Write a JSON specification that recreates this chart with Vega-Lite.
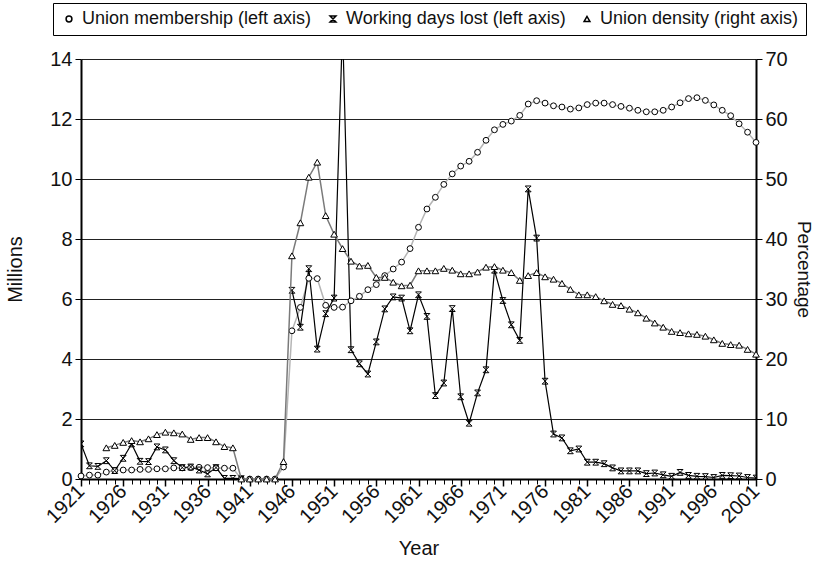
{
  "$schema": "https://vega.github.io/schema/vega-lite/v6.json",
  "width": 675,
  "height": 420,
  "autosize": {"type": "none"},
  "padding": {"left": 81, "top": 59, "right": 62, "bottom": 83},
  "background": "white",
  "config": {
    "font": "Liberation Sans",
    "view": {"stroke": null},
    "axis": {
      "labelFont": "Liberation Sans",
      "titleFont": "Liberation Sans",
      "labelFontSize": 20,
      "titleFontSize": 20,
      "titleFontWeight": "normal",
      "labelColor": "#111",
      "titleColor": "#111",
      "domainColor": "black",
      "tickColor": "black"
    },
    "legend": {
      "labelFont": "Liberation Sans",
      "labelFontSize": 18,
      "labelColor": "#111",
      "labelLimit": 0,
      "strokeColor": "black",
      "padding": 7,
      "labelOffset": 4,
      "columnPadding": 12,
      "symbolSize": 34
    }
  },
  "data": {
    "values": [
      {"year": 1921, "series": "membership", "value": 0.10}, {"year": 1921, "series": "days", "period": "pre", "value": 1.17},
      {"year": 1922, "series": "membership", "value": 0.13}, {"year": 1922, "series": "days", "period": "pre", "value": 0.44},
      {"year": 1923, "series": "membership", "value": 0.13}, {"year": 1923, "series": "days", "period": "pre", "value": 0.42},
      {"year": 1924, "series": "membership", "value": 0.23}, {"year": 1924, "series": "days", "period": "pre", "value": 0.61}, {"year": 1924, "series": "density", "value": 5.2},
      {"year": 1925, "series": "membership", "value": 0.28}, {"year": 1925, "series": "days", "period": "pre", "value": 0.28}, {"year": 1925, "series": "density", "value": 5.6},
      {"year": 1926, "series": "membership", "value": 0.30}, {"year": 1926, "series": "days", "period": "pre", "value": 0.69}, {"year": 1926, "series": "density", "value": 6.1},
      {"year": 1927, "series": "membership", "value": 0.30}, {"year": 1927, "series": "days", "period": "pre", "value": 1.17}, {"year": 1927, "series": "density", "value": 6.4},
      {"year": 1928, "series": "membership", "value": 0.32}, {"year": 1928, "series": "days", "period": "pre", "value": 0.59}, {"year": 1928, "series": "density", "value": 6.2},
      {"year": 1929, "series": "membership", "value": 0.32}, {"year": 1929, "series": "days", "period": "pre", "value": 0.58}, {"year": 1929, "series": "density", "value": 6.7},
      {"year": 1930, "series": "membership", "value": 0.34}, {"year": 1930, "series": "days", "period": "pre", "value": 1.07}, {"year": 1930, "series": "density", "value": 7.4},
      {"year": 1931, "series": "membership", "value": 0.34}, {"year": 1931, "series": "days", "period": "pre", "value": 0.97}, {"year": 1931, "series": "density", "value": 7.8},
      {"year": 1932, "series": "membership", "value": 0.37}, {"year": 1932, "series": "days", "period": "pre", "value": 0.61}, {"year": 1932, "series": "density", "value": 7.7},
      {"year": 1933, "series": "membership", "value": 0.37}, {"year": 1933, "series": "days", "period": "pre", "value": 0.38}, {"year": 1933, "series": "density", "value": 7.5},
      {"year": 1934, "series": "membership", "value": 0.38}, {"year": 1934, "series": "days", "period": "pre", "value": 0.40}, {"year": 1934, "series": "density", "value": 6.6},
      {"year": 1935, "series": "membership", "value": 0.39}, {"year": 1935, "series": "days", "period": "pre", "value": 0.30}, {"year": 1935, "series": "density", "value": 6.9},
      {"year": 1936, "series": "membership", "value": 0.38}, {"year": 1936, "series": "days", "period": "pre", "value": 0.17}, {"year": 1936, "series": "density", "value": 6.9},
      {"year": 1937, "series": "membership", "value": 0.37}, {"year": 1937, "series": "days", "period": "pre", "value": 0.38}, {"year": 1937, "series": "density", "value": 6.2},
      {"year": 1938, "series": "membership", "value": 0.36}, {"year": 1938, "series": "days", "period": "pre", "value": 0.02}, {"year": 1938, "series": "density", "value": 5.4},
      {"year": 1939, "series": "membership", "value": 0.36}, {"year": 1939, "series": "days", "period": "pre", "value": 0.02}, {"year": 1939, "series": "density", "value": 5.2},
      {"year": 1940, "series": "membership", "value": 0}, {"year": 1940, "series": "days", "period": "pre", "value": 0.01}, {"year": 1940, "series": "density", "value": 0},
      {"year": 1941, "series": "membership", "value": 0}, {"year": 1941, "series": "density", "value": 0},
      {"year": 1942, "series": "membership", "value": 0}, {"year": 1942, "series": "density", "value": 0},
      {"year": 1943, "series": "membership", "value": 0}, {"year": 1943, "series": "density", "value": 0},
      {"year": 1944, "series": "membership", "value": 0}, {"year": 1944, "series": "density", "value": 0},
      {"year": 1945, "series": "membership", "value": 0.40}, {"year": 1945, "series": "density", "value": 2.9},
      {"year": 1946, "series": "membership", "value": 4.94}, {"year": 1946, "series": "days", "period": "post", "value": 6.29}, {"year": 1946, "series": "density", "value": 37.2},
      {"year": 1947, "series": "membership", "value": 5.72}, {"year": 1947, "series": "days", "period": "post", "value": 5.06}, {"year": 1947, "series": "density", "value": 42.7},
      {"year": 1948, "series": "membership", "value": 6.69}, {"year": 1948, "series": "days", "period": "post", "value": 7.01}, {"year": 1948, "series": "density", "value": 50.3},
      {"year": 1949, "series": "membership", "value": 6.68}, {"year": 1949, "series": "days", "period": "post", "value": 4.33}, {"year": 1949, "series": "density", "value": 52.8},
      {"year": 1950, "series": "membership", "value": 5.79}, {"year": 1950, "series": "days", "period": "post", "value": 5.51}, {"year": 1950, "series": "density", "value": 43.9},
      {"year": 1951, "series": "membership", "value": 5.72}, {"year": 1951, "series": "days", "period": "post", "value": 6.03}, {"year": 1951, "series": "density", "value": 40.8},
      {"year": 1952, "series": "membership", "value": 5.73}, {"year": 1952, "series": "days", "period": "post", "value": 15.1}, {"year": 1952, "series": "density", "value": 38.4},
      {"year": 1953, "series": "membership", "value": 5.94}, {"year": 1953, "series": "days", "period": "post", "value": 4.31}, {"year": 1953, "series": "density", "value": 36.3},
      {"year": 1954, "series": "membership", "value": 6.09}, {"year": 1954, "series": "days", "period": "post", "value": 3.84}, {"year": 1954, "series": "density", "value": 35.5},
      {"year": 1955, "series": "membership", "value": 6.31}, {"year": 1955, "series": "days", "period": "post", "value": 3.50}, {"year": 1955, "series": "density", "value": 35.6},
      {"year": 1956, "series": "membership", "value": 6.48}, {"year": 1956, "series": "days", "period": "post", "value": 4.57}, {"year": 1956, "series": "density", "value": 33.6},
      {"year": 1957, "series": "membership", "value": 6.78}, {"year": 1957, "series": "days", "period": "post", "value": 5.67}, {"year": 1957, "series": "density", "value": 33.6},
      {"year": 1958, "series": "membership", "value": 7.00}, {"year": 1958, "series": "days", "period": "post", "value": 6.07}, {"year": 1958, "series": "density", "value": 32.8},
      {"year": 1959, "series": "membership", "value": 7.23}, {"year": 1959, "series": "days", "period": "post", "value": 6.03}, {"year": 1959, "series": "density", "value": 32.2},
      {"year": 1960, "series": "membership", "value": 7.68}, {"year": 1960, "series": "days", "period": "post", "value": 4.94}, {"year": 1960, "series": "density", "value": 32.3},
      {"year": 1961, "series": "membership", "value": 8.39}, {"year": 1961, "series": "days", "period": "post", "value": 6.14}, {"year": 1961, "series": "density", "value": 34.7},
      {"year": 1962, "series": "membership", "value": 9.00}, {"year": 1962, "series": "days", "period": "post", "value": 5.42}, {"year": 1962, "series": "density", "value": 34.7},
      {"year": 1963, "series": "membership", "value": 9.39}, {"year": 1963, "series": "days", "period": "post", "value": 2.78}, {"year": 1963, "series": "density", "value": 34.7},
      {"year": 1964, "series": "membership", "value": 9.82}, {"year": 1964, "series": "days", "period": "post", "value": 3.20}, {"year": 1964, "series": "density", "value": 35.1},
      {"year": 1965, "series": "membership", "value": 10.17}, {"year": 1965, "series": "days", "period": "post", "value": 5.68}, {"year": 1965, "series": "density", "value": 34.8},
      {"year": 1966, "series": "membership", "value": 10.43}, {"year": 1966, "series": "days", "period": "post", "value": 2.74}, {"year": 1966, "series": "density", "value": 34.2},
      {"year": 1967, "series": "membership", "value": 10.59}, {"year": 1967, "series": "days", "period": "post", "value": 1.86}, {"year": 1967, "series": "density", "value": 34.2},
      {"year": 1968, "series": "membership", "value": 10.89}, {"year": 1968, "series": "days", "period": "post", "value": 2.87}, {"year": 1968, "series": "density", "value": 34.5},
      {"year": 1969, "series": "membership", "value": 11.29}, {"year": 1969, "series": "days", "period": "post", "value": 3.64}, {"year": 1969, "series": "density", "value": 35.3},
      {"year": 1970, "series": "membership", "value": 11.64}, {"year": 1970, "series": "days", "period": "post", "value": 6.96}, {"year": 1970, "series": "density", "value": 35.4},
      {"year": 1971, "series": "membership", "value": 11.82}, {"year": 1971, "series": "days", "period": "post", "value": 5.95}, {"year": 1971, "series": "density", "value": 34.8},
      {"year": 1972, "series": "membership", "value": 11.93}, {"year": 1972, "series": "days", "period": "post", "value": 5.14}, {"year": 1972, "series": "density", "value": 34.4},
      {"year": 1973, "series": "membership", "value": 12.12}, {"year": 1973, "series": "days", "period": "post", "value": 4.62}, {"year": 1973, "series": "density", "value": 33.1},
      {"year": 1974, "series": "membership", "value": 12.50}, {"year": 1974, "series": "days", "period": "post", "value": 9.67}, {"year": 1974, "series": "density", "value": 33.9},
      {"year": 1975, "series": "membership", "value": 12.61}, {"year": 1975, "series": "days", "period": "post", "value": 8.03}, {"year": 1975, "series": "density", "value": 34.4},
      {"year": 1976, "series": "membership", "value": 12.53}, {"year": 1976, "series": "days", "period": "post", "value": 3.26}, {"year": 1976, "series": "density", "value": 33.7},
      {"year": 1977, "series": "membership", "value": 12.44}, {"year": 1977, "series": "days", "period": "post", "value": 1.50}, {"year": 1977, "series": "density", "value": 33.3},
      {"year": 1978, "series": "membership", "value": 12.40}, {"year": 1978, "series": "days", "period": "post", "value": 1.37}, {"year": 1978, "series": "density", "value": 32.6},
      {"year": 1979, "series": "membership", "value": 12.33}, {"year": 1979, "series": "days", "period": "post", "value": 0.94}, {"year": 1979, "series": "density", "value": 31.6},
      {"year": 1980, "series": "membership", "value": 12.37}, {"year": 1980, "series": "days", "period": "post", "value": 1.00}, {"year": 1980, "series": "density", "value": 30.7},
      {"year": 1981, "series": "membership", "value": 12.48}, {"year": 1981, "series": "days", "period": "post", "value": 0.56}, {"year": 1981, "series": "density", "value": 30.7},
      {"year": 1982, "series": "membership", "value": 12.53}, {"year": 1982, "series": "days", "period": "post", "value": 0.56}, {"year": 1982, "series": "density", "value": 30.4},
      {"year": 1983, "series": "membership", "value": 12.53}, {"year": 1983, "series": "days", "period": "post", "value": 0.51}, {"year": 1983, "series": "density", "value": 29.7},
      {"year": 1984, "series": "membership", "value": 12.48}, {"year": 1984, "series": "days", "period": "post", "value": 0.37}, {"year": 1984, "series": "density", "value": 29.1},
      {"year": 1985, "series": "membership", "value": 12.42}, {"year": 1985, "series": "days", "period": "post", "value": 0.27}, {"year": 1985, "series": "density", "value": 28.9},
      {"year": 1986, "series": "membership", "value": 12.36}, {"year": 1986, "series": "days", "period": "post", "value": 0.27}, {"year": 1986, "series": "density", "value": 28.3},
      {"year": 1987, "series": "membership", "value": 12.29}, {"year": 1987, "series": "days", "period": "post", "value": 0.27}, {"year": 1987, "series": "density", "value": 27.7},
      {"year": 1988, "series": "membership", "value": 12.24}, {"year": 1988, "series": "days", "period": "post", "value": 0.18}, {"year": 1988, "series": "density", "value": 26.8},
      {"year": 1989, "series": "membership", "value": 12.24}, {"year": 1989, "series": "days", "period": "post", "value": 0.20}, {"year": 1989, "series": "density", "value": 26.0},
      {"year": 1990, "series": "membership", "value": 12.29}, {"year": 1990, "series": "days", "period": "post", "value": 0.14}, {"year": 1990, "series": "density", "value": 25.3},
      {"year": 1991, "series": "membership", "value": 12.40}, {"year": 1991, "series": "days", "period": "post", "value": 0.09}, {"year": 1991, "series": "density", "value": 24.6},
      {"year": 1992, "series": "membership", "value": 12.54}, {"year": 1992, "series": "days", "period": "post", "value": 0.22}, {"year": 1992, "series": "density", "value": 24.4},
      {"year": 1993, "series": "membership", "value": 12.68}, {"year": 1993, "series": "days", "period": "post", "value": 0.12}, {"year": 1993, "series": "density", "value": 24.2},
      {"year": 1994, "series": "membership", "value": 12.71}, {"year": 1994, "series": "days", "period": "post", "value": 0.09}, {"year": 1994, "series": "density", "value": 24.1},
      {"year": 1995, "series": "membership", "value": 12.62}, {"year": 1995, "series": "days", "period": "post", "value": 0.08}, {"year": 1995, "series": "density", "value": 23.8},
      {"year": 1996, "series": "membership", "value": 12.47}, {"year": 1996, "series": "days", "period": "post", "value": 0.05}, {"year": 1996, "series": "density", "value": 23.2},
      {"year": 1997, "series": "membership", "value": 12.29}, {"year": 1997, "series": "days", "period": "post", "value": 0.12}, {"year": 1997, "series": "density", "value": 22.6},
      {"year": 1998, "series": "membership", "value": 12.11}, {"year": 1998, "series": "days", "period": "post", "value": 0.11}, {"year": 1998, "series": "density", "value": 22.4},
      {"year": 1999, "series": "membership", "value": 11.84}, {"year": 1999, "series": "days", "period": "post", "value": 0.10}, {"year": 1999, "series": "density", "value": 22.3},
      {"year": 2000, "series": "membership", "value": 11.56}, {"year": 2000, "series": "days", "period": "post", "value": 0.05}, {"year": 2000, "series": "density", "value": 21.6},
      {"year": 2001, "series": "membership", "value": 11.22}, {"year": 2001, "series": "days", "period": "post", "value": 0.03}, {"year": 2001, "series": "density", "value": 20.8}
    ]
  },
  "layer": [
    {
      "encoding": {
        "x": {
          "field": "year",
          "type": "quantitative",
          "scale": {"domain": [1921, 2001], "nice": false, "zero": false},
          "axis": {
            "orient": "bottom",
            "title": "Year",
            "values": [1921, 1926, 1931, 1936, 1941, 1946, 1951, 1956, 1961, 1966, 1971, 1976, 1981, 1986, 1991, 1996, 2001],
            "format": "d",
            "labelOverlap": false,
            "labelAngle": -45,
            "labelAlign": "right",
            "labelBaseline": "middle",
            "labelPadding": 2,
            "tickSize": 7,
            "tickWidth": 1.5,
            "domainWidth": 2,
            "grid": false,
            "titlePadding": 12
          }
        },
        "y": {
          "field": "value",
          "type": "quantitative",
          "scale": {"domain": [0, 14], "nice": false},
          "axis": {
            "orient": "left",
            "title": "Millions",
            "values": [0, 2, 4, 6, 8, 10, 12, 14],
            "grid": true,
            "gridColor": "#222",
            "gridWidth": 1,
            "tickSize": 6,
            "domainWidth": 2,
            "labelPadding": 3,
            "titlePadding": 24
          }
        }
      },
      "layer": [
        {
          "transform": [{"filter": "datum.series == 'membership'"}],
          "mark": {"type": "line", "color": "#b5b5b5", "strokeWidth": 1.5}
        },
        {
          "transform": [{"filter": "datum.series == 'days'"}],
          "mark": {"type": "line", "color": "black", "strokeWidth": 1.2, "clip": true},
          "encoding": {"detail": {"field": "period"}}
        },
        {
          "transform": [{"filter": "datum.series == 'membership'"}],
          "mark": {"type": "point", "shape": "circle", "filled": false, "fill": "white", "fillOpacity": 1, "color": "black", "strokeWidth": 1, "size": 34, "opacity": 1}
        },
        {
          "transform": [{"filter": "datum.series == 'days'"}],
          "mark": {"type": "point", "filled": false, "color": "black", "strokeWidth": 1, "size": 34, "opacity": 1, "clip": true},
          "encoding": {
            "shape": {
              "field": "series",
              "type": "nominal",
              "scale": {
                "domain": ["membership", "days", "density"],
                "range": ["circle", "M-1,-1L1,-1L-1,1L1,1Z", "triangle-up"]
              },
              "legend": {
                "title": null,
                "orient": "none",
                "direction": "horizontal",
                "columns": 3,
                "legendX": -28,
                "legendY": -56,
                "labelExpr": "datum.label == 'membership' ? 'Union membership (left axis)' : datum.label == 'days' ? 'Working days lost (left axis)' : 'Union density (right axis)'"
              }
            }
          }
        }
      ]
    },
    {
      "transform": [{"filter": "datum.series == 'density'"}],
      "encoding": {
        "x": {
          "field": "year",
          "type": "quantitative",
          "axis": {
            "orient": "bottom",
            "title": null,
            "values": [1921,1922,1923,1924,1925,1926,1927,1928,1929,1930,1931,1932,1933,1934,1935,1936,1937,1938,1939,1940,1941,1942,1943,1944,1945,1946,1947,1948,1949,1950,1951,1952,1953,1954,1955,1956,1957,1958,1959,1960,1961,1962,1963,1964,1965,1966,1967,1968,1969,1970,1971,1972,1973,1974,1975,1976,1977,1978,1979,1980,1981,1982,1983,1984,1985,1986,1987,1988,1989,1990,1991,1992,1993,1994,1995,1996,1997,1998,1999,2000,2001],
            "labels": false,
            "domain": false,
            "grid": false,
            "tickSize": 5,
            "tickWidth": 1
          }
        },
        "y": {
          "field": "value",
          "type": "quantitative",
          "scale": {"domain": [0, 70], "nice": false},
          "axis": {
            "orient": "right",
            "title": "Percentage",
            "titleFontSize": 19,
            "values": [0, 10, 20, 30, 40, 50, 60, 70],
            "grid": false,
            "tickSize": 6,
            "domainWidth": 2,
            "labelPadding": 3,
            "titlePadding": 6
          }
        }
      },
      "layer": [
        {
          "mark": {"type": "line", "color": "#7a7a7a", "strokeWidth": 1.5}
        },
        {
          "mark": {"type": "point", "shape": "triangle-up", "filled": false, "fill": "white", "fillOpacity": 1, "color": "black", "strokeWidth": 1, "size": 45, "opacity": 1}
        }
      ]
    }
  ],
  "resolve": {"scale": {"y": "independent"}, "axis": {"x": "independent"}}
}
